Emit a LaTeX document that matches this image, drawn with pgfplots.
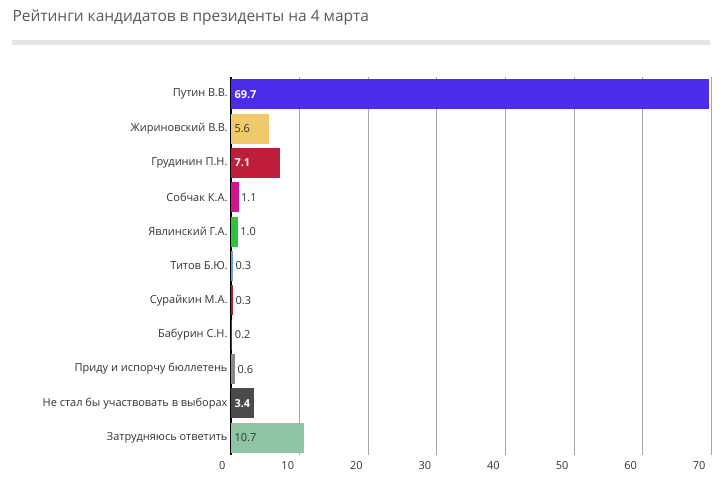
\documentclass[border=0pt]{standalone}
\usepackage{pgfplots}
\pgfplotsset{compat=1.18}
\usepackage{fontspec}
\setmainfont{Open Sans}
\usetikzlibrary{calc}
\definecolor{c1}{HTML}{4A2DE8}
\definecolor{c2}{HTML}{F0C96A}
\definecolor{c3}{HTML}{BE1E3A}
\definecolor{c4}{HTML}{D4148C}
\definecolor{c5}{HTML}{2DC43C}
\definecolor{c6}{HTML}{5DA5DA}
\definecolor{c7}{HTML}{A8242E}
\definecolor{c8}{HTML}{444444}
\definecolor{c9}{HTML}{8A8A8A}
\definecolor{c10}{HTML}{4A4A4A}
\definecolor{c11}{HTML}{8FC4A5}
\definecolor{txt}{HTML}{333333}
\begin{document}
\begin{tikzpicture}
\begin{axis}[name=ax, scale only axis, width=480bp, height=378bp,
  xmin=0, xmax=70, ymin=-0.5, ymax=10.5, y dir=reverse,
  xbar, bar width=30bp, bar shift=0pt,
  xtick={0,10,...,70}, ytick={0,...,10},
  yticklabels={Путин В.В.,Жириновский В.В.,Грудинин П.Н.,Собчак К.А.,Явлинский Г.А.,Титов Б.Ю.,Сурайкин М.А.,Бабурин С.Н.,Приду и испорчу бюллетень,Не стал бы участвовать в выборах,Затрудняюсь ответить},
  axis x line*=bottom, axis y line*=left,
  x axis line style={draw=none},
  y axis line style={black, line width=1.2pt},
  xmajorgrids, grid style={gray!70, line width=0.6pt},
  major tick length=0pt,
  tick label style={font=\fontsize{11bp}{13bp}\selectfont, text=txt},
  xticklabel style={anchor=north east, xshift=-2bp, yshift=-3bp},
  /pgf/number format/assume math mode=true,
  clip=false,
  every node near coord/.style={font=\fontsize{11bp}{13bp}\selectfont, anchor=west},
]
\addplot[fill=c1, draw=none] coordinates {(69.7,0)};
\addplot[fill=c2, draw=none] coordinates {(5.6,1)};
\addplot[fill=c3, draw=none] coordinates {(7.1,2)};
\addplot[fill=c4, draw=none] coordinates {(1.1,3)};
\addplot[fill=c5, draw=none] coordinates {(1.0,4)};
\addplot[fill=c6, draw=none] coordinates {(0.3,5)};
\addplot[fill=c7, draw=none] coordinates {(0.3,6)};
\addplot[fill=c8, draw=none] coordinates {(0.2,7)};
\addplot[fill=c9, draw=none] coordinates {(0.6,8)};
\addplot[fill=c10, draw=none] coordinates {(3.4,9)};
\addplot[fill=c11, draw=none] coordinates {(10.7,10)};
\addplot[draw=none, fill=none, nodes near coords, point meta=explicit symbolic,
  every node near coord/.append style={text=white, font=\fontsize{11bp}{13bp}\selectfont\bfseries, xshift=0bp}]
  coordinates {(0,0) [69.7] (0,2) [7.1] (0,9) [3.4]};
\addplot[draw=none, fill=none, nodes near coords, point meta=explicit symbolic,
  every node near coord/.append style={text=txt, xshift=0bp}]
  coordinates {(0,1) [5.6] (0,10) [10.7]};
\addplot[draw=none, fill=none, nodes near coords, point meta=explicit symbolic,
  every node near coord/.append style={text=txt, xshift=-1bp}]
  coordinates {(1.1,3) [1.1] (1.0,4) [1.0] (0.3,5) [0.3] (0.3,6) [0.3] (0.2,7) [0.2] (0.6,8) [0.6]};
\end{axis}
\node[anchor=west, text=black!65, font=\fontsize{15.5bp}{18bp}\selectfont] at ($(ax.north west)+(-222bp,59bp)$) {Рейтинги кандидатов в президенты на 4 марта};
\fill[black!10] ($(ax.north west)+(-219bp,32bp)$) rectangle ($(ax.north west)+(479bp,37bp)$);
\useasboundingbox ($(ax.south west)+(-231bp,-44bp)$) rectangle +(720bp,499bp);
\end{tikzpicture}
\end{document}
